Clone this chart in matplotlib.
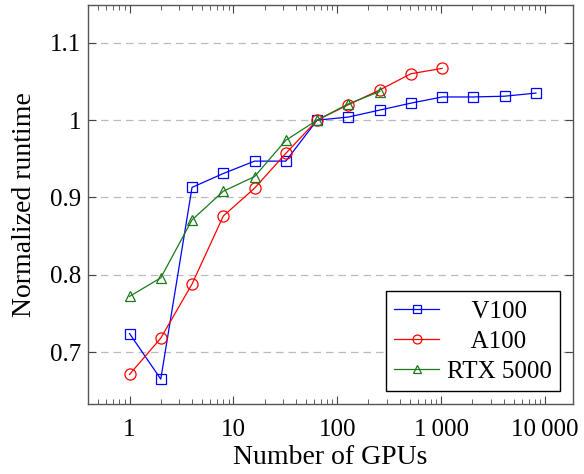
import matplotlib
matplotlib.use('Agg')
import matplotlib.pyplot as plt
from matplotlib.ticker import FixedLocator, LogLocator, NullFormatter

plt.rcParams['font.family'] = ['Liberation Serif', 'DejaVu Serif']

# Data
gpus_v100 = [1, 2, 4, 8, 16, 32, 64, 128, 256, 512, 1024, 2048, 4096, 8192]
v100 = [0.724, 0.665, 0.913, 0.931, 0.947, 0.947, 1.0, 1.004, 1.013, 1.022, 1.030, 1.030, 1.031, 1.035]

gpus_a100 = [1, 2, 4, 8, 16, 32, 64, 128, 256, 512, 1024]
a100 = [0.671, 0.718, 0.788, 0.876, 0.912, 0.957, 1.0, 1.020, 1.039, 1.060, 1.067]

gpus_rtx = [1, 2, 4, 8, 16, 32, 64, 128, 256]
rtx5000 = [0.772, 0.796, 0.871, 0.908, 0.927, 0.974, 1.0, 1.021, 1.037]

x_ticks = [1, 10, 100, 1000, 10000]
x_tick_labels = ['1', '10', '100', '1\u2009000', '10\u2009000']
y_ticks = [0.7, 0.8, 0.9, 1.0, 1.1]
y_tick_labels = ['0.7', '0.8', '0.9', '1', '1.1']

fig = plt.figure(figsize=(5.84, 4.74), dpi=100)
ax = fig.add_axes([0.151, 0.148, 0.830, 0.8415])

ax.plot(gpus_v100, v100, color='blue', marker='s', markersize=7, markerfacecolor='none',
        markeredgewidth=0.9, linewidth=0.9, label='    V100')
ax.plot(gpus_a100, a100, color='red', marker='o', markersize=8, markerfacecolor='none',
        markeredgewidth=0.9, linewidth=0.9, label='    A100')
ax.plot(gpus_rtx, rtx5000, color='#1a7a1a', marker='^', markersize=7, markerfacecolor='none',
        markeredgewidth=0.9, linewidth=0.9, label='RTX 5000')

ax.set_xscale('log')
ax.set_xlim(0.40, 18600)
ax.set_ylim(0.633, 1.149)

ax.xaxis.set_major_locator(FixedLocator(x_ticks))
ax.set_xticklabels(x_tick_labels)
ax.xaxis.set_minor_locator(LogLocator(base=10, subs=range(2, 10), numticks=20))
ax.xaxis.set_minor_formatter(NullFormatter())
ax.set_yticks(y_ticks)
ax.set_yticklabels(y_tick_labels)

ax.tick_params(which='both', direction='in', top=True, right=True, labelsize=18, color='#444444')
ax.tick_params(which='major', length=6, width=0.8)
ax.tick_params(which='minor', length=3.5, width=0.6)
ax.tick_params(axis='x', pad=11)
ax.tick_params(axis='y', pad=5)

ax.grid(axis='y', which='major', linestyle=(0, (6, 4)), color='#bbbbbb', linewidth=0.9)
ax.set_axisbelow(True)
for s in ax.spines.values():
    s.set_color('#555555')
    s.set_linewidth(1.0)

ax.set_xlabel('Number of GPUs', fontsize=20, labelpad=3)
ax.set_ylabel('Normalized runtime', fontsize=20, labelpad=9)

leg = ax.legend(loc='lower right', fontsize=18, frameon=True, fancybox=False,
                edgecolor='black', framealpha=1, handlelength=1.8, handletextpad=0.3,
                borderpad=0.35, labelspacing=0.3, borderaxespad=0.5, markerscale=0.8)
leg.get_frame().set_linewidth(1.0)

fig.savefig('out.png', dpi=100)
